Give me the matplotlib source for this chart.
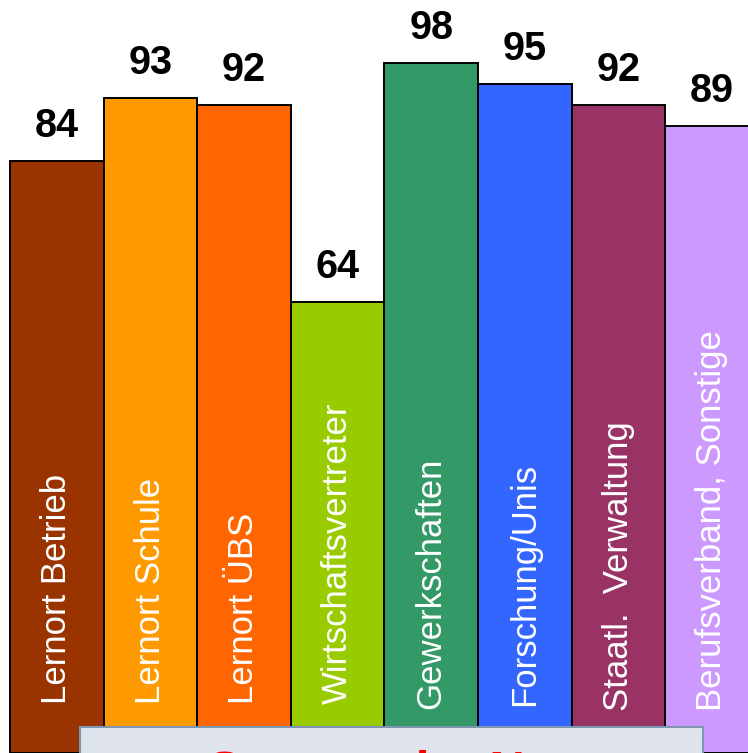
import matplotlib.pyplot as plt
from matplotlib.font_manager import FontProperties
from matplotlib.patches import Rectangle
from matplotlib.textpath import TextPath

categories = [
    "Lernort Betrieb",
    "Lernort Schule",
    "Lernort ÜBS",
    "Wirtschaftsvertreter",
    "Gewerkschaften",
    "Forschung/Unis",
    "Staatl.  Verwaltung",
    "Berufsverband, Sonstige",
]
values = [84, 93, 92, 64, 98, 95, 92, 89]
colors = ["#993300", "#ff9900", "#ff6600", "#99cc00", "#339966", "#3366ff", "#993366", "#cc99ff"]
box_text = "Summe der Nennungen"

plt.rcParams["font.family"] = ["Liberation Sans", "DejaVu Sans"]

W, H = 748, 753
DPI = 100
fig = plt.figure(figsize=(W / DPI, H / DPI), dpi=DPI)
ax = fig.add_axes([0, 0, 1, 1])
ax.set_xlim(-0.607, 7.385)
ax.set_ylim(0, 106.9)
ax.axis("off")

x = list(range(len(values)))
ax.bar(x, values, width=1.0, color=colors, edgecolor="black", linewidth=1.4)

# labels in the bars do not all start at the same height
label_y = [7.0, 7.0, 7.0, 7.0, 6.3, 6.7, 6.0, 6.0]
for xi, v, name, ly in zip(x, values, categories, label_y):
    ax.text(xi, v + 3.4, str(v), ha="center", va="baseline",
            fontsize=28.5, fontweight="bold", color="black")
    ax.text(xi, ly, name, rotation=90, ha="center", va="bottom",
            fontsize=25, color="white")

# grey note box at the bottom, mostly cut off by the figure edge
fig.patches.append(Rectangle((80 / W, -0.2), (703 - 80) / W, 0.2 + (H - 727) / H,
                             transform=fig.transFigure, facecolor="#dfe4ec",
                             edgecolor="#7f96b2", linewidth=1.5, zorder=5))

# only the tops of the red letters peek out above the figure edge
box_fs = 35.5
fp = FontProperties(family="Liberation Sans", weight="bold")
glyph_top = TextPath((0, 0), box_text, size=1, prop=fp).get_extents().y1
baseline_px = 749.5 + glyph_top * box_fs * DPI / 72
fig.text(208 / W, (H - baseline_px) / H, box_text, ha="left", va="baseline",
         fontsize=box_fs, fontweight="bold", color="#ff0000", zorder=6)

fig.savefig("out.png", dpi=DPI)
